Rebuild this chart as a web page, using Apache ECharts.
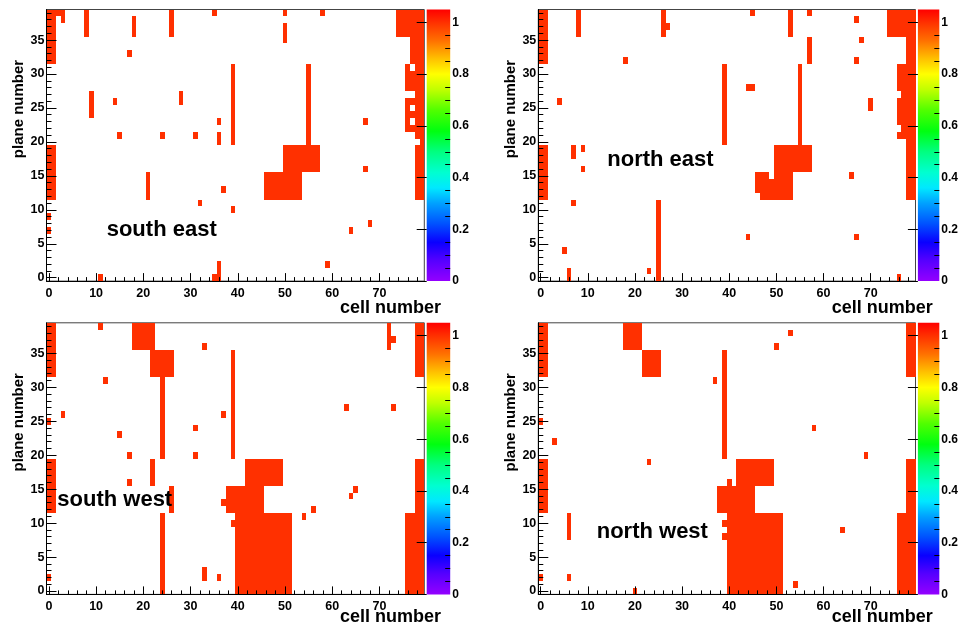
<!DOCTYPE html>
<html><head><meta charset="utf-8">
<script src="https://cdn.jsdelivr.net/npm/echarts@6/dist/echarts.min.js"></script>
<style>html,body{margin:0;padding:0;background:#fff}#c{width:961px;height:623px}</style>
</head><body><div id="c"></div>
<script>
// ---- tick labels ----
const cellTicks = [0, 10, 20, 30, 40, 50, 60, 70];
const cellMinorTicks = [2,4,6,8,12,14,16,18,22,24,26,28,32,34,36,38,42,44,46,48,52,54,56,58,62,64,66,68,72,74,76,78];
const planeTicks = [0, 5, 10, 15, 20, 25, 30, 35];
const planeMinorTicks = [1,2,3,4,6,7,8,9,11,12,13,14,16,17,18,19,21,22,23,24,26,27,28,29,31,32,33,34,36,37,38,39];
const scaleTicks = [0, 0.2, 0.4, 0.6, 0.8, 1];
const scaleMinorTicks = [0.05,0.1,0.15,0.25,0.3,0.35,0.45,0.5,0.55,0.65,0.7,0.75,0.85,0.9,0.95];
const panelNames = ['south east', 'north east', 'south west', 'north west'];
const xTitle = 'cell number';
const yTitle = 'plane number';

// ---- hit blocks: [firstCell, lastCell, firstPlane, lastPlane], every cell value = 1 ----
const southEastHits = [
[0,1,32,39],[2,2,39,39],[3,3,38,39],[8,8,36,39],[18,18,36,38],[26,26,36,39],[35,35,39,39],[17,17,33,33],[39,39,20,31],[9,9,24,27],[14,14,26,26],[28,28,26,27],[36,36,23,23],[15,15,21,21],[24,24,21,21],[31,31,21,21],[36,36,20,21],[0,1,12,19],[21,21,12,15],[37,37,13,13],[32,32,11,11],[39,39,10,10],[0,0,9,9],[0,0,7,7],[11,11,0,0],[35,35,0,0],[36,36,0,2],
[50,50,39,39],[50,50,35,37],[58,58,39,39],[74,79,36,39],[77,79,32,35],[76,76,31,31],[78,79,31,31],[76,79,28,30],[78,79,27,27],[76,76,22,26],[78,79,22,26],[77,77,26,26],[77,77,24,24],[77,77,22,22],[78,79,21,21],[79,79,20,20],[78,79,12,19],[55,55,20,31],[50,57,16,19],[46,53,12,15],[67,67,23,23],[67,67,16,16],[68,68,8,8],[64,64,7,7],[59,59,2,2]
];
const northEastHits = [
[0,1,32,39],[8,8,36,39],[26,26,36,39],[27,27,37,37],[18,18,32,32],[39,39,20,31],[4,4,26,26],[0,1,12,19],[7,7,18,19],[9,9,19,19],[9,9,16,16],[7,7,11,11],[25,25,0,11],[5,5,4,4],[6,6,0,1],[23,23,1,1],
[45,45,39,39],[53,53,36,39],[57,57,39,39],[57,57,32,35],[67,67,38,38],[68,68,35,35],[67,67,32,32],[74,79,36,39],[78,79,32,35],[76,79,28,31],[77,79,27,27],[76,79,23,26],[77,79,22,22],[76,79,21,21],[78,79,12,20],[55,55,20,31],[44,45,28,28],[70,70,25,26],[50,57,16,19],[50,53,12,15],[46,48,15,15],[46,49,13,14],[47,49,12,12],[66,66,15,15],[44,44,6,6],[67,67,6,6],[76,76,0,0]
];
const southWestHits = [
[0,1,32,39],[11,11,39,39],[18,22,36,39],[22,26,32,35],[24,24,20,31],[12,12,31,31],[33,33,36,36],[39,39,20,35],[3,3,26,26],[0,0,25,25],[37,37,26,26],[31,31,24,24],[15,15,23,23],[17,17,20,20],[31,31,20,20],[0,1,12,19],[22,22,16,19],[17,17,16,16],[26,26,12,15],[24,24,0,11],[37,37,13,13],[38,45,12,15],[39,39,10,10],[40,51,0,11],[33,33,2,3],[36,36,2,2],[0,0,2,2],
[72,72,36,39],[73,73,37,37],[78,79,32,39],[63,63,27,27],[73,73,27,27],[42,49,16,19],[54,54,11,11],[56,56,12,12],[64,64,14,14],[65,65,15,15],[78,79,12,19],[76,79,0,11]
];
const northWestHits = [
[0,1,32,39],[18,21,36,39],[22,25,32,35],[37,37,31,31],[39,39,20,35],[0,0,25,25],[3,3,22,22],[23,23,19,19],[0,1,12,19],[6,6,8,11],[6,6,2,2],[0,0,2,2],[20,20,0,0],[38,45,12,15],[40,40,16,16],[42,49,16,19],[40,51,0,11],[39,39,10,10],[39,39,8,8],
[53,53,38,38],[50,50,36,36],[78,79,32,39],[58,58,24,24],[69,69,20,20],[64,64,9,9],[54,54,1,1],[76,79,0,11],[78,79,12,19]
];
const panelHits = [southEastHits, northEastHits, southWestHits, northWestHits];
const hitValue = 1;
const zMax = 1.05;

// ---- layout / style ----
const FONT = '"Liberation Sans", Arial, Helvetica, sans-serif';
const HIT_COLOR = '#ff3000';
const panels = [
  {l: 46.5, t: 9.5, w: 377.8, h: 271.6},
  {l: 538.3, t: 9.5, w: 377.2, h: 271.6},
  {l: 46.5, t: 322.8, w: 377.8, h: 271.6},
  {l: 538.3, t: 322.8, w: 377.2, h: 271.6}
];
const nameLabelPos = [[106.7, 229.9], [607.3, 159.9], [57.3, 499.9], [596.7, 532.2]];
const xTitleY = [307.7, 307.7, 617.3, 617.3];

function expand(blocks) {
  const out = [];
  blocks.forEach(b => {
    for (let c = b[0]; c <= b[1]; c++)
      for (let p = b[2]; p <= b[3]; p++) out.push([c, p, hitValue]);
  });
  return out;
}

const paletteStops = [
  [0.00, '#9400ff'], [0.08, '#5500ff'], [0.15, '#0a00ff'], [0.22, '#0050ff'],
  [0.30, '#00a0ff'], [0.36, '#00e8ff'], [0.42, '#00ffd0'], [0.50, '#00ff80'],
  [0.58, '#00ff10'], [0.66, '#50ff00'], [0.74, '#c0ff00'], [0.80, '#ffff00'],
  [0.86, '#ffc000'], [0.93, '#ff7000'], [1.00, '#ff3000'], [1.05, '#ff0000']
];

const grid = [], xAxis = [], yAxis = [], series = [], graphic = [];
const labelStyle = {color: '#000', fontFamily: FONT, fontWeight: 'bold', fontSize: 12.5};

panels.forEach((P, i) => {
  // main plot grid
  const g = grid.length;
  grid.push({left: P.l, top: P.t, width: P.w, height: P.h, show: true, borderColor: '#444', borderWidth: 1, backgroundColor: 'transparent', containLabel: false});
  const xm = xAxis.length;
  xAxis.push({gridIndex: g, type: 'value', min: -0.5, max: 79.5, position: 'bottom', z: 10,
    axisLine: {show: true, onZero: false, lineStyle: {color: '#000', width: 1}},
    axisTick: {show: true, inside: true, length: 8, customValues: cellTicks, lineStyle: {color: '#000', width: 1}},
    axisLabel: Object.assign({show: true, margin: 6, customValues: cellTicks}, labelStyle),
    splitLine: {show: false}});
  xAxis.push({gridIndex: g, type: 'value', min: -0.5, max: 79.5, position: 'bottom', z: 10,
    axisLine: {show: false, onZero: false},
    axisTick: {show: true, inside: true, length: 4, customValues: cellMinorTicks, lineStyle: {color: '#000', width: 1}},
    axisLabel: {show: false}, splitLine: {show: false}});
  const ym = yAxis.length;
  yAxis.push({gridIndex: g, type: 'value', min: -0.5, max: 39.5, position: 'left', z: 10,
    axisLine: {show: true, onZero: false, lineStyle: {color: '#000', width: 1}},
    axisTick: {show: true, inside: true, length: 10, customValues: planeTicks, lineStyle: {color: '#000', width: 1}},
    axisLabel: Object.assign({show: true, margin: 2, customValues: planeTicks}, labelStyle),
    splitLine: {show: false}});
  yAxis.push({gridIndex: g, type: 'value', min: -0.5, max: 39.5, position: 'left', z: 10,
    axisLine: {show: false, onZero: false},
    axisTick: {show: true, inside: true, length: 5, customValues: planeMinorTicks, lineStyle: {color: '#000', width: 1}},
    axisLabel: {show: false}, splitLine: {show: false}});
  series.push({
    type: 'custom', coordinateSystem: 'cartesian2d', xAxisIndex: xm, yAxisIndex: ym,
    silent: true, animation: false, z: 1,
    data: expand(panelHits[i]),
    renderItem: function (params, api) {
      const x = api.value(0), y = api.value(1);
      const a = api.coord([x - 0.5, y + 0.5]);
      const b = api.coord([x + 0.5, y - 0.5]);
      const x0 = Math.round(a[0]), y0 = Math.round(a[1]);
      const x1 = Math.round(b[0]), y1 = Math.round(b[1]);
      return {type: 'rect', shape: {x: x0, y: y0, width: x1 - x0, height: y1 - y0},
        style: {fill: HIT_COLOR}};
    }
  });

  // colour scale grid
  const cg = grid.length;
  grid.push({left: P.l + P.w + 2.4, top: P.t, width: 23.5, height: P.h, show: false, containLabel: false});
  const cx = xAxis.length;
  xAxis.push({gridIndex: cg, type: 'value', min: 0, max: 1, show: false});
  const cy = yAxis.length;
  yAxis.push({gridIndex: cg, type: 'value', min: 0, max: zMax, position: 'right', z: 10,
    axisLine: {show: false},
    axisTick: {show: true, inside: true, length: 10, customValues: scaleTicks, lineStyle: {color: '#000', width: 1}},
    axisLabel: Object.assign({show: true, margin: 2, customValues: scaleTicks}, labelStyle, {fontSize: 12}),
    splitLine: {show: false}});
  yAxis.push({gridIndex: cg, type: 'value', min: 0, max: zMax, position: 'right', z: 10,
    axisLine: {show: false},
    axisTick: {show: true, inside: true, length: 5, customValues: scaleMinorTicks, lineStyle: {color: '#000', width: 1}},
    axisLabel: {show: false}, splitLine: {show: false}});
  series.push({
    type: 'custom', coordinateSystem: 'cartesian2d', xAxisIndex: cx, yAxisIndex: cy,
    silent: true, animation: false, z: 1,
    data: [[0, 0, 1, zMax]],
    renderItem: function (params, api) {
      const a = api.coord([api.value(0), api.value(3)]);
      const b = api.coord([api.value(2), api.value(1)]);
      return {type: 'rect', shape: {x: a[0], y: a[1], width: b[0] - a[0], height: b[1] - a[1]},
        style: {fill: new echarts.graphic.LinearGradient(0, 1, 0, 0,
          paletteStops.map(s => ({offset: s[0] / zMax, color: s[1]})))}};
    }
  });

  // titles
  graphic.push({type: 'text', x: P.l - 27.5, y: P.t + 99.5, rotation: Math.PI / 2, z: 20,
    style: {text: yTitle, font: 'bold 15px ' + FONT, fill: '#000', align: 'center', verticalAlign: 'middle'}});
  graphic.push({type: 'text', x: P.l + 293.5, y: xTitleY[i], z: 20,
    style: {text: xTitle, font: 'bold 18px ' + FONT, fill: '#000', align: 'left', verticalAlign: 'middle'}});
  graphic.push({type: 'text', x: nameLabelPos[i][0], y: nameLabelPos[i][1], z: 20,
    style: {text: panelNames[i], font: 'bold 22px ' + FONT, fill: '#000', align: 'left', verticalAlign: 'middle'}});
});

const chart = echarts.init(document.getElementById('c'), null, {renderer: 'canvas'});
chart.setOption({animation: false, backgroundColor: '#fff', grid, xAxis, yAxis, series, graphic});
</script></body></html>
